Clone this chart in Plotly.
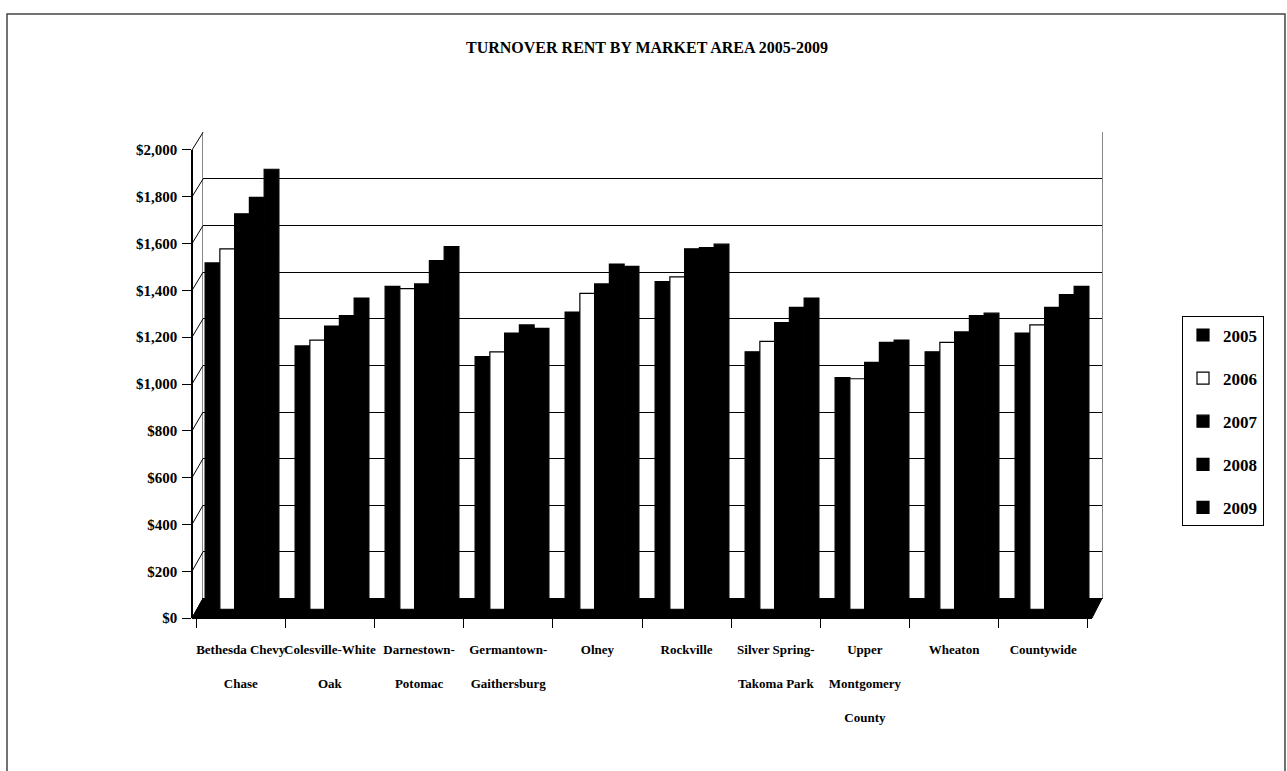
import plotly.graph_objects as go

W, H = 1287, 771

# ---------------- data ----------------
categories = ["Bethesda Chevy Chase", "Colesville-White Oak", "Darnestown-Potomac",
              "Germantown-Gaithersburg", "Olney", "Rockville",
              "Silver Spring-Takoma Park", "Upper Montgomery County", "Wheaton", "Countywide"]
tick_labels = ["Bethesda Chevy<br><br>Chase", "Colesville-White<br><br>Oak", "Darnestown-<br><br>Potomac",
               "Germantown-<br><br>Gaithersburg", "Olney", "Rockville",
               "Silver Spring-<br><br>Takoma Park", "Upper<br><br>Montgomery<br><br>County",
               "Wheaton", "Countywide"]
years = ["2005", "2006", "2007", "2008", "2009"]
rent_2005 = [1480, 1125, 1380, 1080, 1270, 1400, 1100, 990, 1100, 1180]
rent_2006 = [1540, 1150, 1370, 1100, 1350, 1420, 1145, 985, 1140, 1215]
rent_2007 = [1690, 1210, 1390, 1180, 1390, 1540, 1225, 1055, 1185, 1290]
rent_2008 = [1760, 1255, 1490, 1215, 1475, 1545, 1290, 1140, 1255, 1345]
rent_2009 = [1880, 1330, 1550, 1200, 1465, 1560, 1330, 1150, 1265, 1380]
series = [rent_2005, rent_2006, rent_2007, rent_2008, rent_2009]
fills = ["black", "white", "black", "black", "black"]
y_ticks = [0, 200, 400, 600, 800, 1000, 1200, 1400, 1600, 1800, 2000]
y_tick_labels = ["$0", "$200", "$400", "$600", "$800", "$1,000", "$1,200",
                 "$1,400", "$1,600", "$1,800", "$2,000"]


def xf(px):
    return px / W


def yf(py):
    return 1 - py / H


FONT = "Liberation Serif, Times New Roman, serif"

fig = go.Figure()

# back wall (gridlines) subplot : x / y
fig.add_trace(go.Scatter(x=categories, y=rent_2005, mode="markers", marker=dict(opacity=0),
                         showlegend=False, hoverinfo="skip", xaxis="x", yaxis="y"))

# bars : x2 / y2
for yr, vals, fc in zip(years, series, fills):
    fig.add_trace(go.Bar(x=categories, y=vals, name=yr, legendgroup=yr,
                         marker=dict(color=fc, line=dict(color="black", width=1.2)),
                         xaxis="x2", yaxis="y2"))

# front axes (tick labels) : x3 / y3
fig.add_trace(go.Scatter(x=categories, y=rent_2005, mode="markers", marker=dict(opacity=0),
                         showlegend=False, hoverinfo="skip", xaxis="x3", yaxis="y3"))

shapes = []
# floor (black parallelogram)
shapes.append(dict(type="path", xref="paper", yref="paper", layer="below",
                   path=f"M {xf(192)},{yf(623)} L {xf(1092)},{yf(623)} L {xf(1102)},{yf(603)} L {xf(203)},{yf(603)} Z",
                   fillcolor="black", line=dict(color="black", width=1)))
# connectors between front axis and back wall
front_top, front_bot = 145, 623
back_top, back_bot = 127, 603
for v in y_ticks:
    fy = front_bot - (front_bot - front_top) * v / 2000
    by = back_bot - (back_bot - back_top) * v / 2000
    shapes.append(dict(type="line", xref="paper", yref="paper",
                       x0=xf(192), y0=yf(fy), x1=xf(203), y1=yf(by),
                       line=dict(color="black", width=1)))
# page frame
shapes.append(dict(type="rect", xref="paper", yref="paper",
                   x0=xf(7), y0=yf(790), x1=xf(1285), y1=yf(6),
                   line=dict(color="#444", width=1.5), fillcolor="rgba(0,0,0,0)"))

fig.update_layout(
    width=W, height=H, autosize=False,
    margin=dict(l=0, r=0, t=0, b=0),
    paper_bgcolor="white", plot_bgcolor="rgba(0,0,0,0)",
    font=dict(family=FONT, color="black", size=14, weight="bold"),
    title=dict(text="TURNOVER RENT BY MARKET AREA 2005-2009", x=xf(647), xanchor="center",
               y=yf(47), yanchor="middle",
               font=dict(family=FONT, size=16, color="black", weight="bold")),
    barmode="group", bargap=0.18, bargroupgap=0,
    showlegend=True,
    legend=dict(x=xf(1182), y=yf(315), xanchor="left", yanchor="top",
                bordercolor="black", borderwidth=1, bgcolor="white",
                font=dict(family=FONT, size=17, color="black", weight="bold"),
                tracegroupgap=18, itemwidth=30),
    # back wall
    xaxis=dict(domain=[xf(203), xf(1102)], anchor="y", showticklabels=False, ticks="",
               showgrid=False, zeroline=False, showline=True, linecolor="black", linewidth=1,
               mirror=False, fixedrange=True),
    yaxis=dict(domain=[yf(back_bot), yf(back_top)], anchor="x", range=[0, 2000],
               tickvals=y_ticks, showticklabels=False, ticks="",
               showgrid=True, gridcolor="black", gridwidth=1, zeroline=False,
               showline=True, mirror=True, linecolor="#888", linewidth=1, fixedrange=True),
    # bars
    xaxis2=dict(domain=[xf(197), xf(1097)], anchor="y2", showticklabels=False, ticks="",
                showgrid=False, zeroline=False, showline=False, fixedrange=True),
    yaxis2=dict(domain=[yf(614), yf(136)], anchor="x2", range=[0, 2000],
                showticklabels=False, ticks="", showgrid=False, zeroline=False,
                showline=False, fixedrange=True),
    # front axes
    xaxis3=dict(domain=[xf(192), xf(1092)], anchor="free", position=yf(front_bot),
                tickmode="array", tickvals=categories, ticktext=tick_labels, tickangle=0,
                tickson="boundaries", ticks="outside", ticklen=9, tickcolor="black",
                ticklabelstandoff=20,
                tickfont=dict(family=FONT, size=13, color="black", weight="bold"),
                showgrid=False, zeroline=False, showline=True, linecolor="black", linewidth=1.5,
                fixedrange=True),
    yaxis3=dict(domain=[yf(front_bot), yf(front_top)], anchor="free", position=xf(192),
                range=[0, 2000], tickmode="array", tickvals=y_ticks, ticktext=y_tick_labels,
                ticks="outside", ticklen=9, tickcolor="black", ticklabelstandoff=2,
                tickfont=dict(family=FONT, size=15, color="black", weight="bold"),
                showgrid=False, zeroline=False, showline=True, linecolor="black", linewidth=1.5,
                fixedrange=True),
    shapes=shapes,
)

fig.write_html("out.html")
